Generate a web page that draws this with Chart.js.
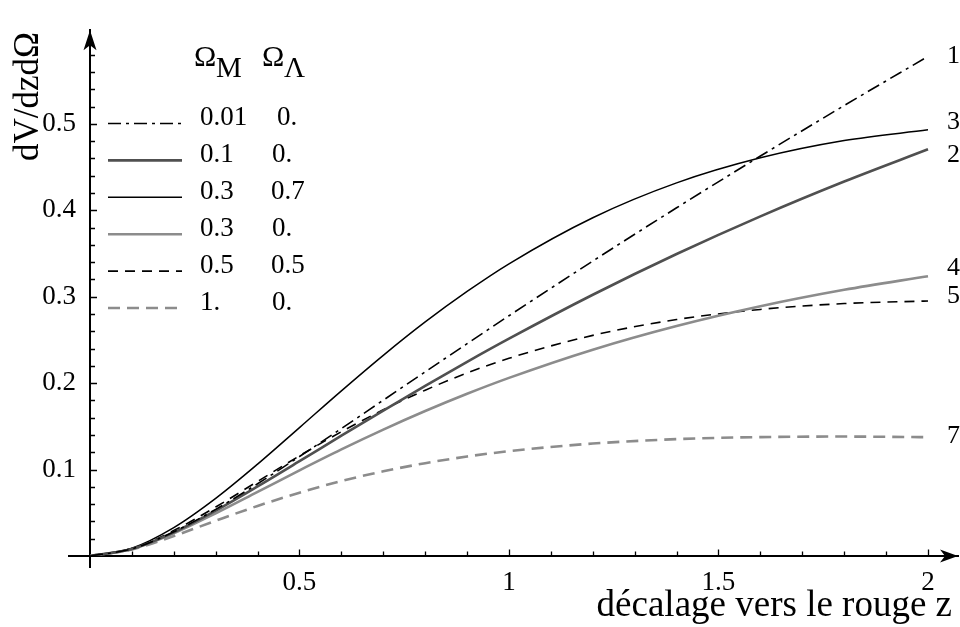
<!DOCTYPE html>
<html>
<head>
<meta charset="utf-8">
<script src="https://cdn.jsdelivr.net/npm/chart.js@4.4.1/dist/chart.umd.min.js"></script>
<style>
  html, body { margin: 0; padding: 0; background: #fff; }
  canvas { display: block; }
</style>
</head>
<body>
<canvas id="c" width="960" height="627"></canvas>
<script>
// Redshift samples shared by every curve
const redshift = [0, 0.1, 0.2, 0.3, 0.4, 0.5, 0.6, 0.7, 0.8, 0.9, 1.0, 1.2, 1.4, 1.6, 1.8, 2.0];

// Comoving volume element dV/dz dΩ for each (Ω_M, Ω_Λ) pair
const volM001L0 = [0, 0.0083, 0.0280, 0.0540, 0.0836, 0.1151, 0.1475, 0.1803, 0.2131, 0.2457, 0.2780, 0.3413, 0.4029, 0.4628, 0.5212, 0.5781];
const volM01L0  = [0, 0.0082, 0.0274, 0.0525, 0.0805, 0.1097, 0.1392, 0.1683, 0.1969, 0.2247, 0.2515, 0.3023, 0.3494, 0.3930, 0.4333, 0.4706];
const volM03L07 = [0, 0.0091, 0.0329, 0.0667, 0.1063, 0.1486, 0.1911, 0.2322, 0.2708, 0.3061, 0.3381, 0.3914, 0.4317, 0.4607, 0.4807, 0.4931];
const volM03L0  = [0, 0.0080, 0.0263, 0.0494, 0.0742, 0.0991, 0.1233, 0.1462, 0.1677, 0.1877, 0.2061, 0.2387, 0.2661, 0.2890, 0.3080, 0.3238];
const volM05L05 = [0, 0.0086, 0.0294, 0.0567, 0.0863, 0.1159, 0.1438, 0.1692, 0.1919, 0.2117, 0.2288, 0.2553, 0.2736, 0.2853, 0.2921, 0.2951];
const volM1L0   = [0, 0.0075, 0.0231, 0.0408, 0.0579, 0.0733, 0.0867, 0.0980, 0.1074, 0.1151, 0.1213, 0.1301, 0.1352, 0.1376, 0.1382, 0.1375];

// Legend columns and curve tags
const omegaM = ['0.01', '0.1', '0.3', '0.3', '0.5', '1.'];
const omegaL = ['0.', '0.', '0.7', '0.', '0.5', '0.'];
const curveTags = ['1', '2', '3', '4', '5', '7'];

// Tick labels
const xTickLabels = ['0.5', '1', '1.5', '2'];
const yTickLabels = ['0.1', '0.2', '0.3', '0.4', '0.5'];

// Where each curve tag sits (y in data units, next to the curve end)
const tagY = [0.5786, 0.4635, 0.5025, 0.3331, 0.3008, 0.1382];

const SERIF = "'Liberation Serif', 'Times New Roman', serif";

const series = [volM001L0, volM01L0, volM03L07, volM03L0, volM05L05, volM1L0];
const styles = [
  { borderColor: '#000000', borderWidth: 1.6, borderDash: [13, 5, 3, 5] },
  { borderColor: '#505050', borderWidth: 2.6, borderDash: [] },
  { borderColor: '#000000', borderWidth: 1.5, borderDash: [] },
  { borderColor: '#8c8c8c', borderWidth: 2.6, borderDash: [] },
  { borderColor: '#000000', borderWidth: 1.6, borderDash: [10, 7] },
  { borderColor: '#8c8c8c', borderWidth: 2.6, borderDash: [12, 7] }
];

const datasets = series.map((vals, i) => Object.assign({
  label: omegaM[i] + ' ' + omegaL[i],
  data: redshift.map((z, k) => ({ x: z, y: vals[k] })),
  pointRadius: 0,
  fill: false,
  cubicInterpolationMode: 'monotone',
  borderCapStyle: 'butt'
}, styles[i]));

function pickLabel(list, v) {
  const s = list.find(t => Math.abs(parseFloat(t) - v) < 1e-6);
  return s === undefined ? '' : s;
}

// Axes extensions, inward ticks, arrowheads, titles, legend and curve tags
const decorations = {
  id: 'decorations',
  afterDraw(chart) {
    const { ctx, chartArea: a, scales: { x, y } } = chart;
    const x0 = x.getPixelForValue(0);
    const y0 = y.getPixelForValue(0);
    ctx.save();
    ctx.strokeStyle = '#000';
    ctx.fillStyle = '#000';
    ctx.lineWidth = 2;
    ctx.setLineDash([]);

    // axis stubs past the origin
    ctx.beginPath();
    ctx.moveTo(x0 - 22, y0); ctx.lineTo(x0, y0);
    ctx.moveTo(x0, y0); ctx.lineTo(x0, y0 + 12);
    ctx.stroke();

    // inward ticks
    ctx.lineWidth = 1.3;
    ctx.beginPath();
    for (let k = 1; k <= 20; k++) {
      const px = Math.round(x.getPixelForValue(k / 10)) + 0.5;
      const len = k % 5 === 0 ? 6.5 : 4.5;
      ctx.moveTo(px, y0); ctx.lineTo(px, y0 - len);
    }
    for (let k = 1; k <= 29; k++) {
      const py = Math.round(y.getPixelForValue(k * 0.02)) + 0.5;
      const len = k % 5 === 0 ? 7 : 5;
      ctx.moveTo(x0, py); ctx.lineTo(x0 + len, py);
    }
    ctx.stroke();

    // arrowheads
    const xt = a.right, yt = a.top;
    ctx.beginPath();
    ctx.moveTo(xt, y0); ctx.lineTo(xt - 18, y0 - 6.5); ctx.lineTo(xt - 13, y0); ctx.lineTo(xt - 18, y0 + 6.5);
    ctx.closePath(); ctx.fill();
    ctx.beginPath();
    ctx.moveTo(x0, yt); ctx.lineTo(x0 - 6.5, yt + 20); ctx.lineTo(x0, yt + 15); ctx.lineTo(x0 + 6.5, yt + 20);
    ctx.closePath(); ctx.fill();

    // axis titles
    ctx.font = '37px ' + SERIF;
    ctx.textAlign = 'right';
    ctx.textBaseline = 'alphabetic';
    ctx.fillText('décalage vers le rouge z', 952, 616);
    ctx.save();
    ctx.translate(38, 161);
    ctx.rotate(-Math.PI / 2);
    ctx.font = '35px ' + SERIF;
    ctx.textAlign = 'left';
    ctx.fillText('dV/dzdΩ', 0, 0);
    ctx.restore();

    // legend header
    ctx.font = '30px ' + SERIF;
    ctx.textAlign = 'left';
    ctx.fillText('Ω', 194, 66);
    ctx.fillText('Ω', 262, 66);
    ctx.font = '29px ' + SERIF;
    ctx.fillText('M', 216, 77);
    ctx.fillText('Λ', 284, 77);

    // legend rows
    const col2 = [277, 272, 271, 272, 271, 272];
    chart.data.datasets.forEach((ds, i) => {
      const base = 125 + i * 36.9;
      ctx.save();
      ctx.strokeStyle = ds.borderColor;
      ctx.lineWidth = ds.borderWidth;
      ctx.setLineDash(ds.borderDash || []);
      ctx.lineCap = 'butt';
      ctx.beginPath();
      ctx.moveTo(108, base - 1.5); ctx.lineTo(182, base - 1.5);
      ctx.stroke();
      ctx.restore();
      ctx.font = '27px ' + SERIF;
      ctx.fillStyle = '#000';
      ctx.textAlign = 'left';
      ctx.fillText(omegaM[i], 200, base);
      ctx.fillText(omegaL[i], col2[i], base);
    });

    // curve tags
    ctx.font = '26px ' + SERIF;
    ctx.textBaseline = 'middle';
    ctx.textAlign = 'left';
    const tx = x.getPixelForValue(2) + 19;
    curveTags.forEach((t, i) => ctx.fillText(t, tx, y.getPixelForValue(tagY[i])));
    ctx.restore();
  }
};

new Chart(document.getElementById('c'), {
  type: 'line',
  data: { datasets },
  plugins: [decorations],
  options: {
    responsive: false,
    animation: false,
    devicePixelRatio: 1,
    layout: { padding: { left: 0, top: 10, right: 2, bottom: 0 }, autoPadding: false },
    plugins: { legend: { display: false }, tooltip: { enabled: false } },
    scales: {
      x: {
        type: 'linear',
        min: 0,
        max: 2.0716,
        grid: { display: false, drawTicks: false },
        border: { display: true, color: '#000', width: 2 },
        ticks: {
          stepSize: 0.5,
          includeBounds: false,
          maxRotation: 0,
          autoSkip: false,
          padding: 11,
          color: '#000',
          font: { family: SERIF, size: 27 },
          callback: v => pickLabel(xTickLabels, v)
        },
        afterFit: s => { s.height = 71; }
      },
      y: {
        type: 'linear',
        min: 0,
        max: 0.6084,
        grid: { display: false, drawTicks: false },
        border: { display: true, color: '#000', width: 2 },
        ticks: {
          stepSize: 0.1,
          includeBounds: false,
          autoSkip: false,
          padding: 14,
          color: '#000',
          font: { family: SERIF, size: 27 },
          callback: v => pickLabel(yTickLabels, v)
        },
        afterFit: s => { s.width = 90; }
      }
    }
  }
});
</script>
</body>
</html>
